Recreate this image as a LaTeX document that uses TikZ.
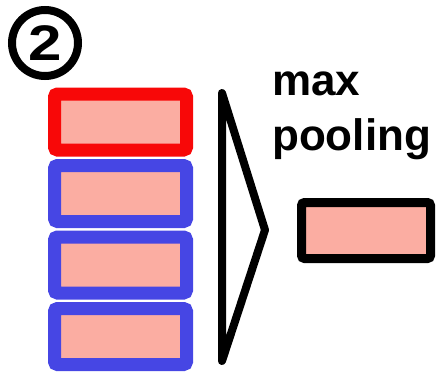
\documentclass[tikz,border=0pt]{standalone}
\usepackage{fontspec}
\setmainfont{Liberation Sans}
\usetikzlibrary{positioning}
\definecolor{cellfill}{RGB}{251,173,162}
\definecolor{hotred}{RGB}{248,8,8}
\definecolor{cellblue}{RGB}{70,70,228}
\tikzset{node distance=2.5pt, auto,
  cell/.style={draw=cellblue, fill=cellfill, line width=13pt, rounded corners=3pt,
    minimum width=132pt, minimum height=56pt, inner sep=0pt},
  lbl/.style={font=\fontsize{44}{55}\selectfont\bfseries, inner sep=0pt, anchor=base west}}

\begin{document}
\begin{tikzpicture}[x=1pt,y=-1pt]
\useasboundingbox (0,0) rectangle (439,373);
\node (num) [circle, draw, line width=8pt, minimum size=66pt, inner sep=0pt,
  font=\fontsize{50}{50}\selectfont\bfseries] at (45,43) {\scalebox{1.2}[1]{2}};
% stack of cells, first one highlighted
\node (c1) [cell, draw=hotred] at (120.5,122) {};
\node (c2) [cell, below=of c1] {};
\node (c3) [cell, below=of c2] {};
\node (c4) [cell, below=of c3] {};
% pooling bracket
\coordinate (ptop) at (222,93);
\coordinate (ptip) at (265,230);
\coordinate (pbot) at (222,361);
\draw[line width=8pt, line join=round] (ptop) -- (ptip) -- (pbot) -- cycle;
\node (maxl) [lbl] at (272,95) {max};
\node (pool) [lbl] at (272,150) {pooling};
\node (out) [cell, draw=black, line width=9pt, minimum width=129pt] at (366,230.5) {};
\end{tikzpicture}
\end{document}
